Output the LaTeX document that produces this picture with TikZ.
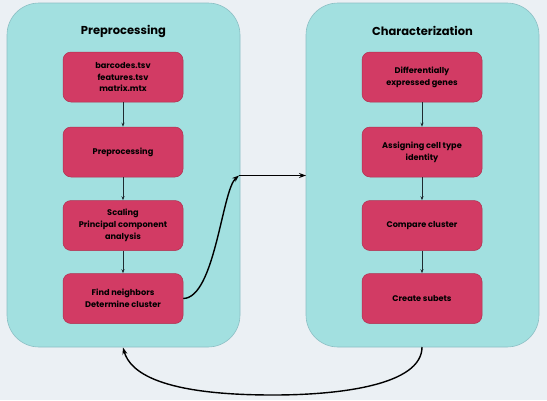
\documentclass[tikz,border=0pt]{standalone}
\usepackage{fontspec}
\setmainfont{Poppins}
\usetikzlibrary{arrows.meta}
\definecolor{bg}{HTML}{EBF0F4}
\definecolor{cont}{HTML}{A2E0E0}
\definecolor{contb}{HTML}{8CBFC4}
\definecolor{boxf}{HTML}{D23B64}
\definecolor{boxb}{HTML}{B0304F}
\definecolor{arr}{HTML}{1E2A30}
\tikzset{
  container/.style={draw=contb, fill=cont, line width=0.6pt, rounded corners=32pt},
  stepbox/.style={draw=boxb, fill=boxf, line width=0.5pt, rounded corners=8pt,
    minimum width=120pt, minimum height=50pt, inner sep=2pt, align=center,
    font=\fontsize{8.2}{11.8}\selectfont\bfseries, text=black},
  ttl/.style={font=\fontsize{11.5}{14}\selectfont\bfseries, text=black},
  small/.style={-{Stealth[length=4pt,width=3pt]}, draw=arr, line width=0.6pt},
  big/.style={-{Stealth[length=7pt,width=5pt]}, draw=black, line width=1.4pt},
}
\begin{document}
\begin{tikzpicture}[x=1pt,y=-1pt]
\fill[bg] (0,0) rectangle (547,400);
\useasboundingbox (0,0) rectangle (547,400);
\draw[container] (7,3) rectangle (240,347);
\draw[container] (306,3) rectangle (539,347);
\node[ttl] (t1) at (123.5,31) {Preprocessing};
\node[ttl] (t2) at (422.5,31) {Characterization};
\node[stepbox] (a1) at (123,77) {barcodes.tsv\\features.tsv\\matrix.mtx};
\node[stepbox] (a2) at (123,152) {Preprocessing};
\node[stepbox] (a3) at (123,225.5) {Scaling\\Principal component\\analysis};
\node[stepbox] (a4) at (123,298.5) {Find neighbors\\Determine cluster};
\node[stepbox] (b1) at (422,77) {Differentially\\expressed genes};
\node[stepbox] (b2) at (422,152) {Assigning cell type\\identity};
\node[stepbox] (b3) at (422,225.5) {Compare cluster};
\node[stepbox] (b4) at (422,298.5) {Create subets};
\draw[small] (a1) -- (a2);
\draw[small] (a2) -- (a3);
\draw[small] (a3) -- (a4);
\draw[small] (b1) -- (b2);
\draw[small] (b2) -- (b3);
\draw[small] (b3) -- (b4);
\coordinate (m) at (239,175.5);
\coordinate (r) at (306,175.5);
\coordinate (lb) at (123,347.5);
\coordinate (rb) at (422,347);
\draw[big] (a4.east) .. controls (215,298) and (222,190) .. (m);
\draw[big] (m) -- (r);
\draw[big] (rb) .. controls (422,385) and (340,395) .. (273,395) .. controls (160,395) and (130,372) .. (lb);
\end{tikzpicture}
\end{document}
